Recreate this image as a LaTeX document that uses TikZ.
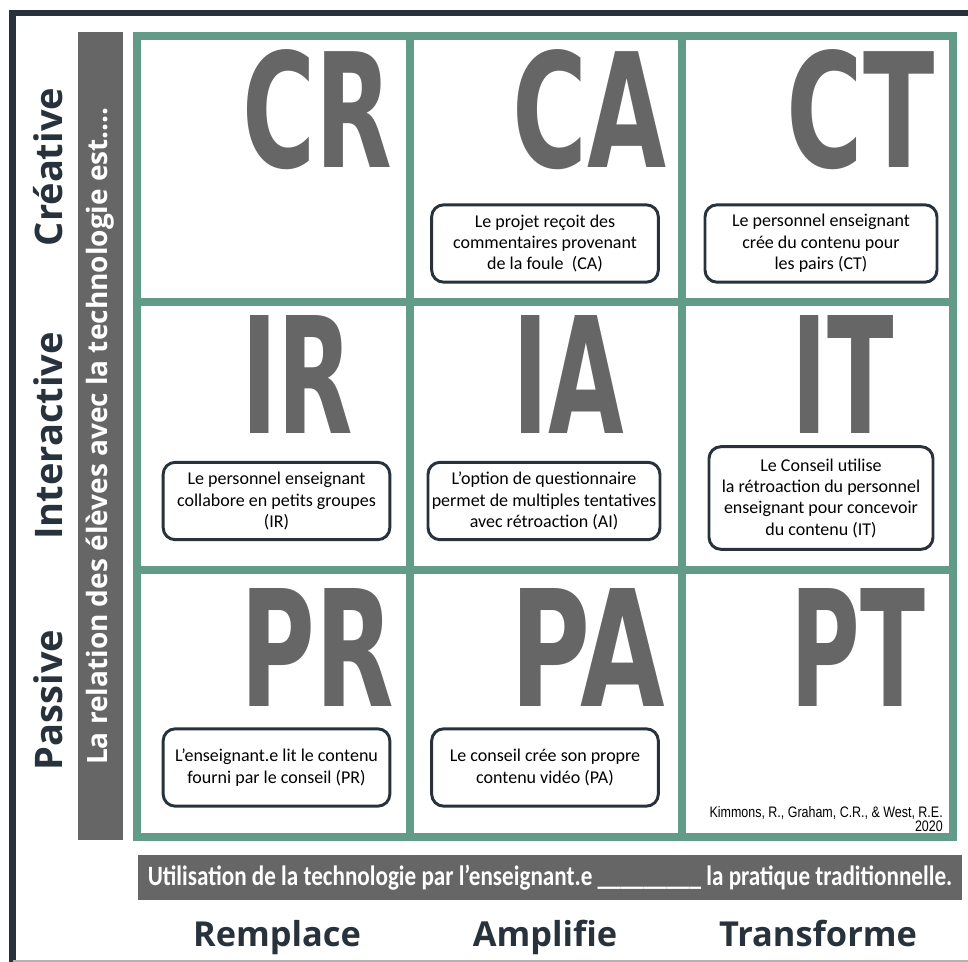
\documentclass[tikz,border=0pt]{standalone}
\usepackage{fontspec}
\usepackage{graphicx}
\setmainfont{Carlito}
\newfontfamily\labelfont{Open Sans}
\newfontfamily\codefont{DejaVu Sans}
\newfontfamily\citefont{Liberation Sans}

\definecolor{gridgreen}{RGB}{98,155,135}
\definecolor{codegray}{RGB}{102,102,102}
\definecolor{darkslate}{RGB}{40,50,60}

% big cell letters, squeezed to a fixed height
\newcommand{\cellcode}[2]{\resizebox{#1}{88.5pt}{\codefont\bfseries #2}}

\tikzset{
  gridline/.style={draw=gridgreen, line width=6pt},
  codeletters/.style={anchor=base west, inner sep=0pt, text=codegray},
  descbox/.style={draw=darkslate, line width=2.2pt, rounded corners=9pt, fill=white,
    align=center, inner sep=2pt, minimum width=170pt, minimum height=58pt,
    font=\fontsize{13.5}{16}\selectfont},
  rowlabel/.style={rotate=90, anchor=base, inner sep=0pt, text=darkslate,
    font=\labelfont\bfseries\fontsize{28.5}{30}\selectfont},
  collabel/.style={anchor=base, inner sep=0pt, text=darkslate,
    font=\labelfont\bfseries\fontsize{25.8}{30}\selectfont},
  graybar/.style={fill=codegray, text=white, inner sep=0pt},
}

\begin{document}
\begin{tikzpicture}[x=0.75pt,y=-0.75pt]
\useasboundingbox (0,0) rectangle (968,962);
\clip (0,0) rectangle (968,962);

% outer frame
\draw[darkslate, line width=5pt] (12.5,980) -- (12.5,13) -- (990,13);
\draw[black!30, line width=1pt] (12.5,961) -- (990,961);

% the grid
\draw[gridline] (137,36) rectangle (953,837);
\foreach \x in {410,682}
  \draw[gridline] (\x,36) -- (\x,837);
\foreach \y in {302,570}
  \draw[gridline] (137,\y) -- (953,\y);

% vertical and horizontal bars
\node[graybar, rotate=90, minimum width=606pt, minimum height=33.75pt] (relbar) at (100.5,436)
  {\labelfont\bfseries\fontsize{21}{22}\selectfont La relation des élèves avec la technologie est....};
\node[graybar, minimum width=618pt, minimum height=33.75pt] (usagebar) at (550,877.5)
  {\scalebox{0.826}[1]{\bfseries\fontsize{21}{24}\selectfont Utilisation de la technologie par l’enseignant.e \_\_\_\_\_\_\_\_\_ la pratique traditionnelle.}};

% row and column labels
\node[rowlabel] (creative) at (62,167) {Créative};
\node[rowlabel] (interactive) at (62,436) {Interactive};
\node[rowlabel] (passive) at (62,700) {Passive};
\node[collabel] (remplace) at (277,946) {Remplace};
\node[collabel] (amplifie) at (545,946) {Amplifie};
\node[collabel] (transforme) at (818,946) {Transforme};

% cell letters
\foreach \name/\x/\y/\w in {CR/242/168/112.5pt, CA/512/168/115.5pt, CT/786/168/111pt,
  IR/241/434/84pt, IA/512/434/84pt, IT/791/434/77pt,
  PR/240/706/115pt, PA/510/706/116pt, PT/790/706/101pt}
  \node[codeletters] (\name) at (\x,\y) {\cellcode{\w}{\name}};

% descriptions
\node[descbox] (ca) at (545,243.5) {Le projet reçoit des\\commentaires provenant\\de la foule\ \ (CA)};
\node[descbox, minimum width=174pt] (ct) at (821,243.5) {Le personnel enseignant\\crée du contenu pour\\les pairs (CT)};
\node[descbox] (ir) at (276.5,501) {Le personnel enseignant\\collabore en petits groupes\\(IR)};
\node[descbox, minimum width=174pt] (ia) at (544,501) {L’option de questionnaire\\permet de multiples tentatives\\avec rétroaction (AI)};
\node[descbox, minimum width=168pt, minimum height=77pt] (it) at (821,498) {Le Conseil utilise\\la rétroaction du personnel\\enseignant pour concevoir\\du contenu (IT)};
\node[descbox] (pr) at (276.5,767.5) {L’enseignant.e lit le contenu\\fourni par le conseil (PR)};
\node[descbox] (pa) at (545,767.5) {Le conseil crée son propre\\contenu vidéo (PA)};

% source
\node[anchor=south east, inner sep=0pt, align=right, font=\citefont\fontsize{11.4}{10.8}\selectfont] (cite) at (943,832)
  {\scalebox{0.82}[1]{Kimmons, R., Graham, C.R., \& West, R.E.}\\\scalebox{0.82}[1]{2020}};
\end{tikzpicture}
\end{document}
